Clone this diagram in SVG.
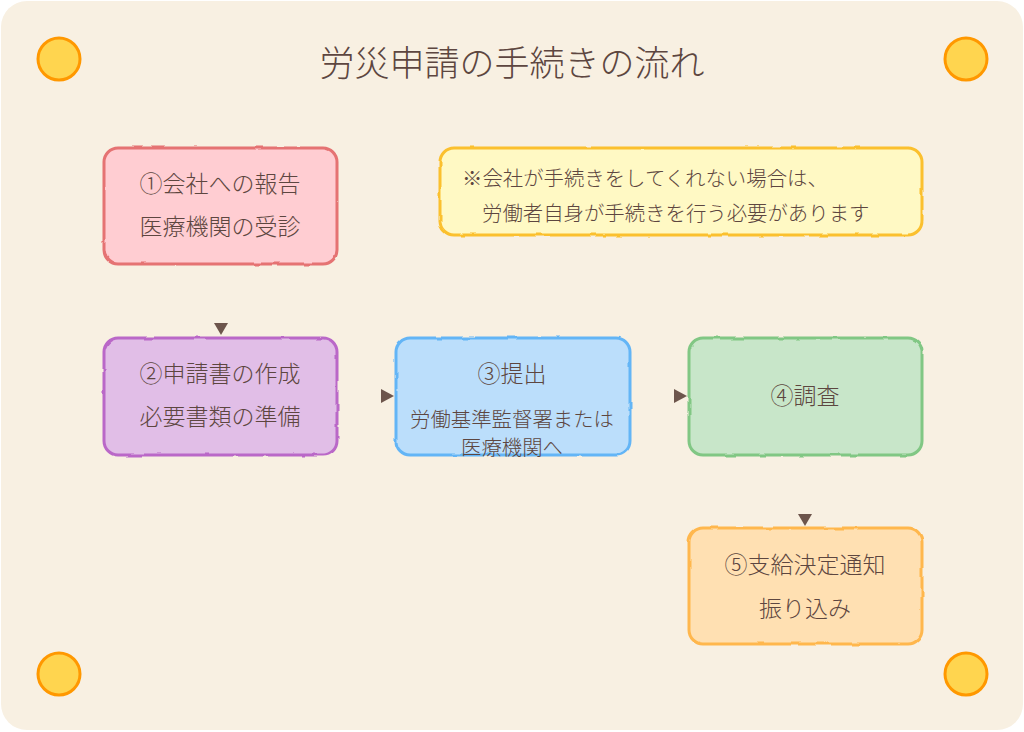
<svg xmlns="http://www.w3.org/2000/svg" width="1024" height="732" viewBox="0 0 1024 732">
<defs>
<filter id="rough" x="-5%" y="-5%" width="110%" height="110%">
<feTurbulence type="fractalNoise" baseFrequency="0.06" numOctaves="2" seed="3" result="n"/>
<feDisplacementMap in="SourceGraphic" in2="n" scale="2.5" xChannelSelector="R" yChannelSelector="G"/>
</filter>
<style>
text{font-family:"Noto Sans CJK JP","Noto Sans",sans-serif;font-weight:300;fill:#5D4640;text-anchor:middle;dominant-baseline:central}
.t{font-size:23px}
.s{font-size:20.4px}
.n{font-size:20.4px;text-anchor:start}
.box{stroke-width:3}
.sun{fill:#FFD54F;stroke:#FF9800;stroke-width:3}
.arr{fill:#6D554C}
</style>
</defs>
<rect x="0" y="0" width="1024" height="732" fill="#FFFFFF"/>
<rect x="1" y="1" width="1022" height="729" rx="26" fill="#F8F0E2"/>
<g id="decor">
<circle class="sun" cx="59" cy="59" r="21"/>
<circle class="sun" cx="966" cy="59" r="21"/>
<circle class="sun" cx="59" cy="674" r="21"/>
<circle class="sun" cx="966" cy="674" r="21"/>
</g>
<g id="title"><text x="512" y="60" style="font-size:35px">労災申請の手続きの流れ</text></g>
<g id="connectors">
<polygon class="arr" points="214,323 228,323 221,335"/>
<polygon class="arr" points="381,389 381,403 394,396"/>
<polygon class="arr" points="674,389 674,403 687,396"/>
<polygon class="arr" points="798,514 812,514 805,526"/>
</g>
<g id="node1">
<rect class="box" x="104" y="148" width="233" height="116" rx="14" fill="#FFCDD2" stroke="#E57373" filter="url(#rough)"/>
<text class="t" x="220" y="182">①会社への報告</text>
<text class="t" x="220" y="225">医療機関の受診</text>
</g>
<g id="note">
<rect class="box" x="440" y="148" width="482" height="87" rx="14" fill="#FFF9C4" stroke="#FBC02D" filter="url(#rough)"/>
<text class="n" x="462" y="177">※会社が手続きをしてくれない場合は、</text>
<text class="n" x="482" y="212">労働者自身が手続きを行う必要があります</text>
</g>
<g id="node2">
<rect class="box" x="104" y="338" width="233" height="117" rx="14" fill="#E1BEE7" stroke="#BA68C8" filter="url(#rough)"/>
<text class="t" x="220" y="372">②申請書の作成</text>
<text class="t" x="220" y="415">必要書類の準備</text>
</g>
<g id="node3">
<rect class="box" x="396" y="338" width="234" height="117" rx="14" fill="#BBDEFB" stroke="#64B5F6" filter="url(#rough)"/>
<text class="t" x="512" y="372">③提出</text>
<text class="s" x="512" y="418">労働基準監督署または</text>
<text class="s" x="512" y="446">医療機関へ</text>
</g>
<g id="node4">
<rect class="box" x="689" y="338" width="233" height="117" rx="14" fill="#C8E6C9" stroke="#81C784" filter="url(#rough)"/>
<text class="t" x="805" y="394">④調査</text>
</g>
<g id="node5">
<rect class="box" x="689" y="528" width="233" height="116" rx="14" fill="#FFE0B2" stroke="#FFB74D" filter="url(#rough)"/>
<text class="t" x="805" y="563">⑤支給決定通知</text>
<text class="t" x="805" y="607">振り込み</text>
</g>
</svg>
